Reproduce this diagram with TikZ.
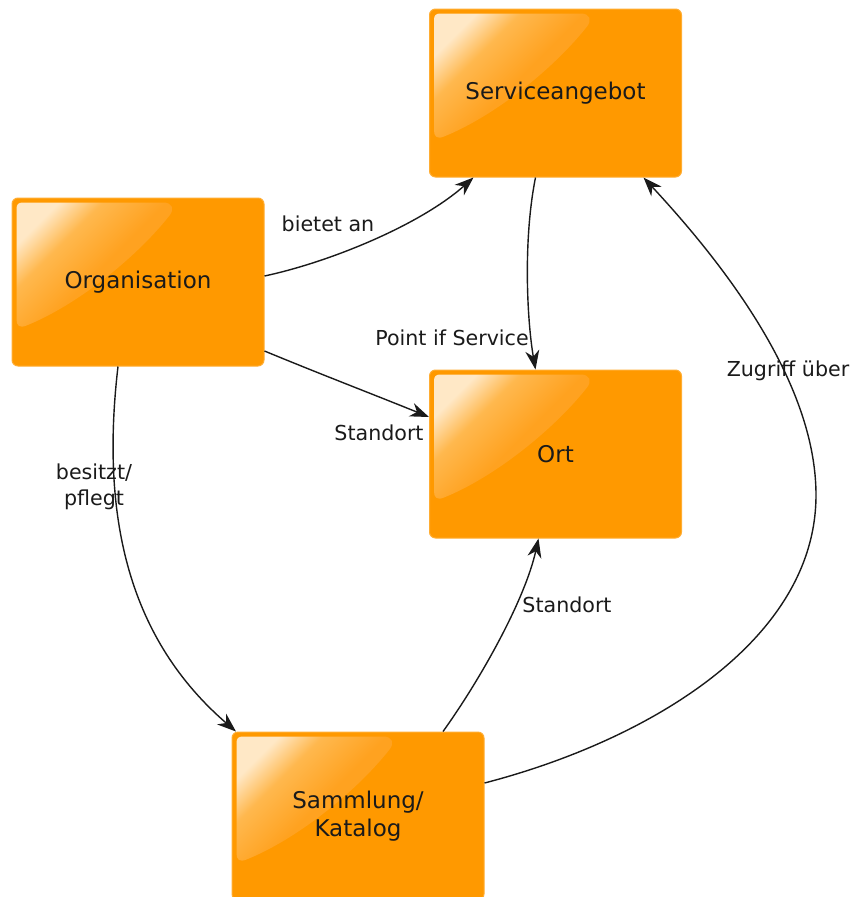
\documentclass[tikz,border=0pt]{standalone}
\usepackage{fontspec}
\setmainfont{DejaVu Sans}
\usetikzlibrary{arrows.meta}
\definecolor{boxor}{HTML}{FF9900}
\definecolor{boxedge}{HTML}{FFAD33}
\definecolor{hlA}{HTML}{FFE8C6}
\definecolor{hlM}{HTML}{FFB84E}
\definecolor{hlB}{HTML}{FFA220}
\definecolor{ink}{HTML}{1A1A1A}
\pgfdeclarehorizontalshading{glossy}{100bp}{color(0bp)=(hlA); color(25bp)=(hlA); color(36bp)=(hlM); color(52bp)=(hlB); color(100bp)=(hlB)}
\newcommand\glossmark[1]{%
  \begin{scope}[shift={(#1.north west)}]
    \shade[shading=glossy, shading angle=-45]
      (5,122) -- (5,11) .. controls (5,7) and (7,5) .. (11,5) -- (152,5)
      .. controls (161,5) and (163,12) .. (158,18)
      .. controls (125,60) and (65,108) .. (15,128)
      .. controls (8,131) and (5,128) .. (5,122) -- cycle;
  \end{scope}}
\begin{document}
\begin{tikzpicture}[x=1pt,y=-1pt,
  box/.style={draw=boxedge, line width=1pt, fill=boxor, rounded corners=6pt,
    minimum width=252pt, minimum height=168pt, inner sep=0pt},
  boxtext/.style={font=\fontsize{23}{28}\selectfont, text=ink, align=center, inner sep=0pt},
  lbl/.style={font=\fontsize{20.6}{26}\selectfont, text=ink, inner sep=0pt, align=center},
  conn/.style={line width=1.4pt, draw=ink, -{Stealth[length=19pt,width=14pt,inset=6pt]}}]
\useasboundingbox (0,0) rectangle (856,897);
\clip (0,0) rectangle (856,897);

% boxes
\node[box] (org) at (138,282) {};
\glossmark{org}
\node[boxtext] (orgt) at (org) {Organisation};

\node[box] (serv) at (555.5,93) {};
\glossmark{serv}
\node[boxtext] (servt) at (serv) {Serviceangebot};

\node[box] (ort) at (555.5,454) {};
\glossmark{ort}
\node[boxtext] (ortt) at (ort) {Ort};

\node[box] (samm) at (358,816) {};
\glossmark{samm}
\node[boxtext] (sammt) at (samm) {Sammlung/\\Katalog};

% connectors
\draw[conn] ([yshift=6pt]org.east) .. controls (330,262) and (420,225) .. ([xshift=-82pt]serv.south);
\draw[conn] ([xshift=-20pt]serv.south) .. controls (523,240) and (527,320) .. ([xshift=-20pt]ort.north);
\draw[conn] ([yshift=-69pt]org.east) .. controls (320,374) and (380,397) .. ([yshift=37pt]ort.west);
\draw[conn] ([xshift=-20pt]org.south) .. controls (100,520) and (130,640) .. ([xshift=-122pt]samm.north);
\draw[conn] ([xshift=85pt]samm.north) .. controls (480,680) and (525,600) .. ([xshift=-17pt]ort.south);
\draw[conn] ([yshift=33pt]samm.east) .. controls (650,740) and (816,640) .. (816,495)
  .. controls (816,380) and (720,260) .. ([xshift=88pt]serv.south);

% labels
\node[lbl] (l1) at (328,224) {bietet an};
\node[lbl] (l2) at (452,338) {Point if Service};
\node[lbl] (l3) at (379,433) {Standort};
\node[lbl] (l4) at (94,487) {besitzt/\\pflegt};
\node[lbl] (l5) at (567,605) {Standort};
\node[lbl] (l6) at (788,371) {Zugriff über};
\end{tikzpicture}
\end{document}
